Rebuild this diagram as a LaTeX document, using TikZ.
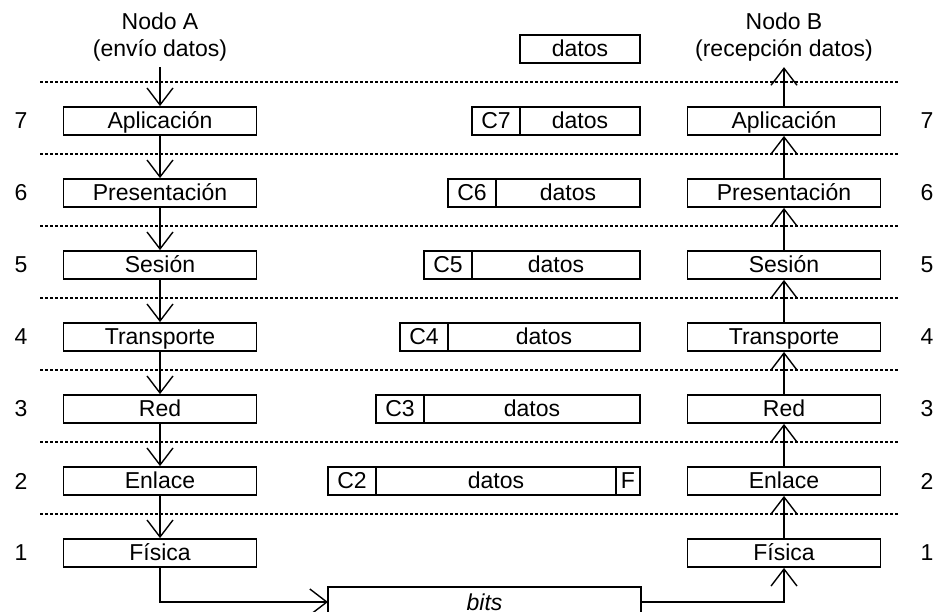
\documentclass[tikz,border=0pt]{standalone}
\usepackage{fontspec}
\setmainfont{Liberation Sans}
\definecolor{LineColor}{RGB}{0,0,0}
\usetikzlibrary{positioning, arrows.meta}
\tikzstyle{layer} = [draw=LineColor, line width=0.9pt, minimum width=96.5pt, minimum height=14pt, inner sep=0pt, text height=9pt, text depth=1.5pt]
\tikzstyle{pkt} = [draw=LineColor, line width=0.9pt, minimum height=14pt, inner sep=0pt, outer sep=0pt, text height=9pt, text depth=1.5pt, anchor=east]
\tikzstyle{arrow} = [line width=0.7pt, LineColor, -{Straight Barb[length=8.5pt, width=13pt]}]
\tikzstyle{sepline} = [line width=0.7pt, LineColor, dash pattern=on 1.5pt off 1pt]

\begin{document}
\begin{tikzpicture}[x=0.5pt, y=-0.5pt, every node/.style={font=\fontsize{11.5}{13.5}\selectfont}]
    \useasboundingbox (0,0) rectangle (935,611);
    % Layer separators
    \foreach \y in {82,154,...,514} {
            \draw[sepline] (40,\y) -- (900,\y);
        }

    % End nodes
    \node[align=center, inner sep=0pt] (nodoA) at (160,37.5) {Nodo A\\(envío datos)};
    \node[align=center, inner sep=0pt] (nodoB) at (784,37.5) {Nodo B\\(recepción datos)};

    % OSI layers on both sides
    \foreach \n/\name in {7/Aplicación, 6/Presentación, 5/Sesión, 4/Transporte, 3/Red, 2/Enlace, 1/Física} {
            \node[layer] (A\n) at (160,{553-72*(\n-1)}) {\name};
            \node[layer] (B\n) at (784,{553-72*(\n-1)}) {\name};
            \node (nl\n) at (21,{553-72*(\n-1)}) {\n};
            \node (nr\n) at (927,{553-72*(\n-1)}) {\n};
        }

    \draw[arrow, shorten <=2.5pt] (nodoA.south) -- (A7.north);
    \draw[arrow, shorten >=2.5pt] (B7.north) -- (nodoB.south);
    \foreach \n/\m in {7/6, 6/5, 5/4, 4/3, 3/2, 2/1} {
            \draw[arrow] (A\n.south) -- (A\m.north);
            \draw[arrow] (B\m.north) -- (B\n.south);
        }

    % Encapsulation
    \node[pkt, minimum width=60pt] (dtop) at (640,49) {datos};
    \foreach \n/\w in {7/60pt, 6/72pt, 5/84pt, 4/96pt, 3/108pt} {
            \node[pkt, minimum width=\w] (d\n) at (640,{553-72*(\n-1)}) {datos};
            \node[pkt, minimum width=24pt] (c\n) at (d\n.west) {C\n};
        }
    \node[pkt, minimum width=12pt] (f2) at (640,481) {F};
    \node[pkt, minimum width=120pt] (d2) at (f2.west) {datos};
    \node[pkt, minimum width=24pt] (c2) at (d2.west) {C2};

    % Physical medium
    \node[pkt, anchor=center, minimum width=156.5pt, minimum height=15pt, text height=9.5pt, text depth=1.5pt] (bits) at (484.5,602) {\textit{bits}};
    \draw[arrow] (A1.south) |- (bits.west);
    \draw[arrow] (bits.east) -| (B1.south);
\end{tikzpicture}
\end{document}
